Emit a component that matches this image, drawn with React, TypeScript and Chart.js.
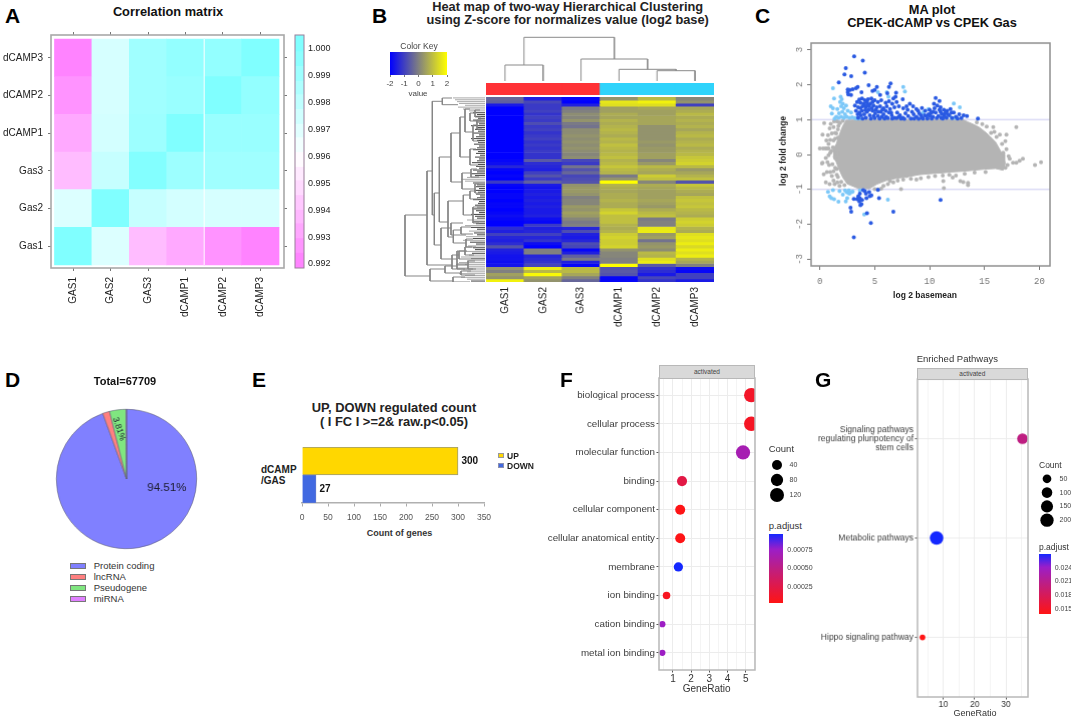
import React, { useEffect, useRef } from "react";
import { Chart, registerables } from "chart.js";

Chart.register(...registerables);
Chart.defaults.font.family = '"Liberation Sans", Arial, sans-serif';

// ---------- Panel A ----------
const corrCols = ["GAS1", "GAS2", "GAS3", "dCAMP1", "dCAMP2", "dCAMP3"];
const corrRowNames = ["Gas1", "Gas2", "Gas3", "dCAMP1", "dCAMP2", "dCAMP3"];
const corrGas1 = [1.0, 0.9971, 0.9939, 0.9933, 0.9926, 0.9921];
const corrGas2 = [0.9971, 1.0, 0.9978, 0.9974, 0.9973, 0.9973];
const corrGas3 = [0.9939, 0.9978, 0.9999, 0.9991, 0.9990, 0.9990];
const corrD1 = [0.9933, 0.9974, 0.9991, 1.0, 0.9992, 0.9992];
const corrD2 = [0.9926, 0.9973, 0.9990, 0.9992, 1.0, 0.9994];
const corrD3 = [0.9921, 0.9973, 0.9990, 0.9994, 0.9994, 1.0];
const corrMatrix = [corrGas1, corrGas2, corrGas3, corrD1, corrD2, corrD3];
const corrKeyEdges = [0.99185, 0.9924, 0.99295, 0.9935, 0.994, 0.99455, 0.9951, 0.9956, 0.99615, 0.9967, 0.9972, 0.99775, 0.9983, 0.9988, 0.99935, 0.9999, 1.00052];
const corrKeyTicks = [0.992, 0.993, 0.994, 0.995, 0.996, 0.997, 0.998, 0.999, 1.0];

// ---------- Panel B ----------
const heatCols = ["GAS1", "GAS2", "GAS3", "dCAMP1", "dCAMP2", "dCAMP3"];
const sampleGroup = [0, 0, 0, 1, 1, 1];
const heatRows = [
  [-0.4, -1.5, -1.9, 0.3, 0.9, 0.1], [-0.5, -0.9, -2.0, 1.6, 1.8, 0.3], [-1.6, -1.1, -1.5, 1.5, 1.5, -1.0],
  [-2.0, -1.1, -0.1, 0.5, 0.6, 0.6], [-2.0, -1.0, 0.0, 0.5, 0.5, 0.7], [-2.0, -1.2, 0.2, 0.7, 0.5, 0.9],
  [-2.0, -1.0, 0.1, 0.6, 0.6, 0.7], [-2.0, -1.1, 0.3, 0.8, 0.6, 0.8], [-2.0, -0.8, -0.1, 0.7, 0.6, 0.7],
  [-2.0, -1.1, -0.2, 0.8, 0.3, 0.8], [-2.0, -1.0, 0.2, 0.9, 0.3, 0.6], [-2.0, -1.2, 0.2, 0.8, 0.3, 0.8],
  [-2.0, -1.1, 0.3, 0.7, 0.3, 0.9], [-2.0, -1.0, 0.2, 0.9, 0.3, 0.7], [-2.0, -1.2, 0.3, 0.8, 0.4, 0.8],
  [-2.0, -1.1, 0.2, 1.0, 0.3, 0.9], [-2.0, -1.2, 0.3, 0.9, 0.4, 0.7], [-2.0, -1.1, 0.2, 0.8, 0.4, 0.8],
  [-2.0, -1.2, 0.1, 0.9, 0.5, 0.9], [-2.0, -1.2, 0.2, 1.0, 0.5, 1.1], [-1.9, -0.6, -0.9, 0.8, 0.1, 1.2],
  [-1.8, -1.3, -1.1, 0.9, 0.4, 1.3], [-1.4, -1.4, -0.2, 1.1, 0.9, 0.9], [-1.9, -1.5, -0.7, 0.9, 0.7, 0.4],
  [-2.0, -1.0, -0.4, 0.8, 0.6, 0.6], [-1.9, -0.7, -0.9, -0.1, 1.2, 0.8], [-2.0, -1.1, -0.8, 0.3, 1.0, 1.0],
  [-1.1, -0.5, -0.7, 2.0, 0.1, -0.7], [-1.9, -1.6, 0.3, 0.8, 0.7, 1.1], [-2.0, -1.7, 0.4, 0.7, 0.6, 0.9],
  [-2.0, -1.6, 0.4, 0.6, 0.5, 0.7], [-1.9, -1.5, 0.3, 0.7, 0.5, 0.6], [-1.9, -1.6, 0.0, 0.7, 0.5, 1.0],
  [-2.0, -1.5, 0.1, 0.8, 0.6, 1.1], [-1.9, -1.6, 0.1, 0.7, 0.5, 1.0], [-1.9, -1.5, 0.4, 0.7, 0.4, 1.1],
  [-2.0, -1.6, 0.3, 1.1, 0.7, 0.9], [-1.9, -1.6, 0.5, 1.3, 0.9, 0.8], [-1.8, -1.5, 0.4, 1.0, 1.0, 0.7],
  [-1.9, -1.8, 0.1, 1.0, -0.1, 1.2], [-2.0, -1.9, -0.1, 1.0, 0.0, 1.3], [-2.2, -1.1, 0.0, 0.8, 0.0, 1.2],
  [-1.3, -1.5, -1.4, 0.7, 1.6, 0.8], [-1.5, -1.4, -0.8, 0.8, 1.7, 0.7], [-1.0, -1.0, -1.5, 1.2, 0.4, 1.5],
  [-1.4, -1.4, -1.6, 1.3, 0.5, 1.6], [-1.5, -1.2, -1.4, 1.2, -0.2, 1.5], [-1.3, -1.8, -0.8, 1.2, 0.3, 1.7],
  [-0.7, -2.1, -0.9, 1.3, 0.4, 1.4], [-1.5, 0.0, -1.9, 0.3, 0.2, 1.7], [-1.6, 0.0, -1.5, 0.1, 0.9, 1.5],
  [-1.7, -1.4, -0.5, 0.1, 0.8, 1.7], [-1.7, -1.3, -0.1, 0.0, 1.5, 0.8], [-1.8, -1.2, -1.5, 0.0, 1.7, 0.6],
  [-1.7, -0.9, -1.9, 2.0, -0.6, 0.0], [0.3, 1.7, 0.9, -0.7, -1.2, -1.8], [0.0, 0.9, 0.9, -0.6, -1.3, -1.9],
  [0.5, 1.9, 0.6, -0.7, -1.6, -1.0], [0.3, 0.5, 0.0, -1.9, -0.9, -1.0], [1.8, 0.3, -0.4, -1.9, -1.2, -1.6],
];
// brackets: parent height, first row, first child height, second row, second child height
const rowBrackets = [
  [80, 118, 58, 179, 55], [58, 74, 52.7, 168, 33], [52.7, 4.3, 42.7, 118, 50.7], [42.7, 1, 33, 7.7, 27],
  [50.7, 96, 45.7, 148, 44], [45.7, 60, 34, 125, 37], [34, 36, 25, 85, 23], [25, 20, 20, 60, 15],
  [20, 12, 15, 35, 12], [15, 16, 10, 24, 8], [12, 28, 8, 44, 6], [15, 52, 9, 68, 7], [10, 13, 5, 20, 4],
  [8, 23, 4, 32, 3], [23, 76, 14, 92, 10], [14, 72, 8, 80, 6], [10, 87, 6, 96, 5], [37, 104, 21.7, 140, 31.7],
  [21.7, 98, 15, 118, 12], [15, 94, 9, 102, 7], [12, 110, 8, 126, 6], [31.7, 133, 24, 146, 19], [24, 130, 14, 137, 12],
  [19, 142, 12, 150, 9], [44, 131, 34, 162, 28], [34, 126, 22, 138, 19], [28, 154, 20, 168, 17],
  [20, 150, 13, 158, 11], [17, 164, 10, 172, 9], [55, 172, 40, 184, 32], [40, 169, 28, 176, 24], [32, 180, 20, 185, 15],
  [28, 167, 18, 172, 12], [24, 174, 14, 178, 10], [33, 158, 26, 172, 20], [26, 154, 18, 162, 14],
];
const leafStarts = [
  32, 30, 28, 26, 20, 27, 22, 16, 12, 8, 10, 7, 12, 9, 6, 14, 8, 10, 7, 12, 6, 9, 14, 8, 7, 11, 6, 8, 12, 7,
  9, 5, 10, 6, 8, 13, 7, 9, 6, 12, 8, 14, 10, 18, 24, 20, 12, 8, 9, 6, 11, 7, 9, 5, 8, 12, 6, 7, 10, 8,
  13, 9, 6, 14, 10, 8, 18, 12, 9, 20, 14, 8, 16, 11, 8, 19, 12, 22, 15, 9, 17, 12, 10, 21, 13, 16, 24, 14, 18, 26,
  20, 16, 28, 22, 18, 26, 20, 24, 18, 14,
];
const colMerges = [
  [0.5, 1, 0.5, 17, 1.5, 17, 1.5, 1],
  [4.5, 1, 4.5, 11.3, 5.5, 11.3, 5.5, 1],
  [3.5, 1, 3.5, 12.7, 5, 12.7, 5, 11.3],
  [2.5, 1, 2.5, 23, 4.25, 23, 4.25, 12.7],
  [1, 17, 1, 44.7, 3.375, 44.7, 3.375, 23],
];

// ---------- Panel C ----------
const maUpperX = [1.2, 1.5, 1.8, 2.1, 2.4, 5, 9, 13.0, 13.5, 14, 14.5, 15, 15.5, 16, 16.5, 16.9];
const maUpperY = [0.12, 0.3, 0.58, 0.82, 0.98, 1, 1, 1, 0.93, 0.86, 0.78, 0.66, 0.52, 0.36, 0.08, -0.25];
const maLowerX = [1.2, 1.5, 1.8, 2.1, 2.5, 3.5, 4.5, 5.2, 6, 7, 8, 9, 10, 11, 12, 13, 14, 15, 16, 16.7, 16.9];
const maLowerY = [-0.05, -0.22, -0.46, -0.66, -0.84, -0.97, -0.98, -0.85, -0.75, -0.68, -0.64, -0.58, -0.55, -0.53, -0.5, -0.48, -0.45, -0.42, -0.4, -0.45, -0.25];
const maGrey = [
  [0, 0.17], [0.25, 0.57], [0.4, 0.9], [0.2, -0.26], [0.25, -0.24], [0.36, -0.57], [0.55, -0.8], [0.9, -0.85], [0.3, 0.17], [0.5, 0.17],
  [0.65, 0.17], [0.8, 0.17], [0.6, 0.4], [0.75, 0.55], [0.9, 0.75], [0.8, 0.3], [0.95, 0.42], [1.1, 0.6], [1.25, 0.78], [1.0, 0.88],
  [0.55, -0.1], [0.7, -0.22], [0.85, -0.3], [0.95, -0.5], [1.1, -0.62], [1.25, -0.75], [1.35, -0.85], [0.65, -0.5], [1.6, -0.8], [1.8, -0.9],
  [1.05, 0.1], [1.2, 0.2], [0.95, 0.05], [0.8, -0.02], [1.3, 0.95], [1.55, 0.95], [15.8, 0.78], [17.9, 0.78], [17.0, 0.57], [16.9, 0.38],
  [16.4, 0.57], [15.9, 0.65], [14.8, 0.87], [14.3, 0.92], [15.2, 0.8], [15.6, 0.62], [16.1, 0.5], [16.6, 0.3], [17.0, 0.15], [17.2, -0.05],
  [18.5, -0.12], [17.9, -0.24], [19.6, -0.3], [20.15, -0.22], [17.3, -0.12], [17.6, -0.24], [17.1, -0.3], [16.9, -0.38], [18.2, -0.18], [16.7, 0.05],
  [12.8, -0.76], [13.07, -0.79], [13.5, -0.81], [13.5, -0.88], [11.3, -0.96], [7.4, -0.99], [6.4, -0.76], [7.9, -0.62], [8.8, -0.72], [5.3, -1.0],
  [5.8, -0.9], [6.2, -0.85], [6.7, -0.8], [7.1, -0.75], [7.6, -0.72], [8.3, -0.7], [9.2, -0.68], [9.9, -0.65], [10.5, -0.62], [11.2, -0.6],
  [11.8, -0.58], [12.4, -0.6], [13.2, -0.55], [14.1, -0.52], [15.1, -0.5], [5.0, -0.99], [5.6, -0.98], [11.25, -0.76], [12.1, -0.66],
  [1.4, 0.45], [1.5, 0.6], [1.65, 0.48], [1.55, 0.02], [1.4, -0.1], [1.55, -0.42], [1.4, -0.38], [1.55, -0.58], [1.65, 0.72], [1.7, 0.82],
  [1.85, 0.9], [1.4, 0.62], [1.25, 0.4], [1.15, -0.28], [1.25, -0.48], [1.65, -0.65], [1.95, -0.78], [2.25, -0.88], [2.1, 0.96], [1.75, 0.92],
];
const maDark = [
  [3.13, 2.81], [3.92, 2.69], [2.37, 2.47], [4.1, 2.34], [2.25, 2.29], [2.86, 2.24], [1.73, 2.06], [6.45, 2.03], [4.45, 1.98], [6.3, 1.93],
  [5.2, 1.93], [3.45, 1.93], [3.3, 1.9], [3.0, 1.87], [2.55, 1.86], [2.75, 1.85], [5.0, 1.85], [4.8, 1.82], [2.55, 1.78], [3.8, 1.78],
  [6.15, 1.75], [6.95, 1.77], [2.6, 1.72], [2.85, 1.7], [5.5, 1.7], [6.9, 1.65], [6.7, 1.6], [7.55, 1.58], [10.55, 1.62], [10.9, 1.53],
  [3.6, 1.57], [3.85, 1.6], [4.1, 1.55], [4.4, 1.58], [4.7, 1.6], [5.0, 1.55], [3.4, 1.5], [3.7, 1.48], [4.0, 1.45], [4.3, 1.5],
  [4.6, 1.45], [5.3, 1.5], [5.6, 1.55], [6.0, 1.48], [6.3, 1.52], [6.6, 1.45], [7.0, 1.5], [3.2, 1.4], [3.5, 1.35], [3.9, 1.38],
  [4.2, 1.35], [4.5, 1.38], [4.9, 1.4], [5.2, 1.35], [5.5, 1.38], [5.8, 1.32], [6.1, 1.38], [6.4, 1.3], [6.8, 1.35], [7.2, 1.38],
  [7.6, 1.32], [7.9, 1.38], [8.2, 1.45], [8.5, 1.38], [8.8, 1.3], [9.3, 1.33], [9.6, 1.25], [10.0, 1.28], [10.4, 1.45], [10.7, 1.4],
  [11.0, 1.35], [11.3, 1.28], [11.6, 1.25], [11.9, 1.3], [12.2, 1.2], [12.7, 1.15], [13.1, 1.12], [13.4, 1.1], [14.4, 1.03], [3.3, 1.25],
  [3.6, 1.2], [3.85, 1.25], [4.05, 1.15], [4.3, 1.22], [4.55, 1.12], [4.8, 1.25], [5.05, 1.18], [5.3, 1.1], [5.55, 1.22], [5.8, 1.15],
  [6.05, 1.08], [6.3, 1.2], [6.55, 1.12], [6.8, 1.05], [7.05, 1.2], [7.3, 1.12], [7.55, 1.05], [7.8, 1.18], [8.05, 1.1], [8.3, 1.03],
  [8.55, 1.15], [8.8, 1.08], [9.05, 1.18], [9.3, 1.05], [9.55, 1.12], [9.8, 1.03], [10.05, 1.15], [10.3, 1.08], [10.55, 1.2], [10.8, 1.1],
  [11.05, 1.05], [11.3, 1.15], [11.55, 1.05], [11.8, 1.12], [12.05, 1.04], [12.4, 1.08], [3.5, 1.05], [3.9, 1.03], [4.2, 1.05], [4.65, 1.03],
  [5.0, 1.04], [5.45, 1.03], [5.9, 1.03], [6.2, 1.04], [6.6, 1.03], [7.0, 1.04], [7.4, 1.03], [7.7, 1.02], [8.6, 1.03], [9.0, 1.02],
  [9.4, 1.03], [9.9, 1.15], [10.2, 1.03], [10.65, 1.04], [11.2, 1.03], [11.65, 1.15], [12.0, 1.2], [12.55, 1.03], [12.9, 1.04], [10.3, 1.22],
  [11.0, 1.22], [9.7, 1.1], [8.95, 1.25], [8.4, 1.22], [4.15, 1.27], [4.75, 1.32], [5.1, 1.28], [5.7, 1.28], [3.7, 1.33], [11.35, 1.1],
  [4.05, 1.42], [4.35, 1.42], [4.8, 1.5], [3.75, 1.12], [4.45, 1.28], [5.35, 1.22], [6.0, 1.25], [6.5, 1.2], [8.0, 1.28], [9.2, 1.12],
  [10.0, 1.1], [10.15, 1.2], [10.9, 1.28], [10.45, 1.32], [11.45, 1.2], [11.1, 1.16], [3.45, 1.15], [4.9, 1.1], [5.65, 1.08], [7.2, 1.08],
  [5.3, -1.01], [5.4, -1.25], [4.55, -1.19], [4.1, -1.05], [3.65, -1.12], [3.1, -1.27], [3.65, -1.25], [4.25, -1.25], [4.7, -1.17], [3.6, -1.34],
  [3.7, -1.45], [3.8, -1.42], [4.5, -1.08], [3.5, -1.2], [3.95, -1.02], [4.2, -1.12], [3.85, -1.3], [3.4, -1.28], [11.0, -1.3], [6.7, -1.64],
  [4.65, -1.96], [3.1, -2.37], [4.3, -1.68], [2.8, -1.52], [2.86, -1.64],
];
const maLight = [
  [1.2, 1.9], [7.6, 1.93], [7.75, 1.8], [1.3, 1.6], [1.0, 1.38], [1.2, 1.32], [1.1, 1.17], [1.9, 1.65], [2.0, 1.58], [1.85, 1.5],
  [2.1, 1.45], [1.95, 1.38], [2.2, 1.32], [1.6, 1.3], [2.4, 1.4], [2.05, 1.22], [1.75, 1.18], [2.3, 1.15], [2.55, 1.25], [1.5, 1.08],
  [1.7, 1.05], [1.95, 1.08], [2.2, 1.05], [2.45, 1.08], [2.7, 1.05], [2.95, 1.06], [3.2, 1.04], [1.35, 1.03], [2.85, 1.2], [6.25, 1.65],
  [6.1, 1.78], [12.2, 1.46], [12.75, 1.35], [9.9, 1.3], [3.4, 1.03], [3.65, 1.03], [12.0, 1.05], [12.3, 1.05], [9.4, 1.2], [5.3, 1.78],
  [6.2, -1.29], [2.37, -1.34], [4.05, -1.72], [0.75, -1.07], [0.9, -1.2], [1.3, -1.28], [1.8, -1.05], [2.1, -1.15], [2.6, -1.1], [2.45, -1.08],
  [2.7, -1.12], [2.9, -1.08], [2.5, -1.25], [1.2, -1.02], [3.0, -1.06], [3.65, -1.03], [1.7, -1.35], [1.05, -1.25], [2.3, -1.03], [2.65, -1.03],
];
const maTicksX = [0, 5, 10, 15, 20];
const maTicksY = [-3, -2, -1, 0, 1, 2, 3];

// ---------- Panel D ----------
const pieNames = ["Protein coding", "lncRNA", "Pseudogene", "miRNA"];
const pieValues = [94.51, 1.6, 3.81, 0.08];
const pieColors = ["#8080ff", "#ff8080", "#80e680", "#e080ff"];

// ---------- Panel E ----------
const regCategory = ["dCAMP/GAS"];
const regUp = [300];
const regDown = [27];
const regTicks = [0, 50, 100, 150, 200, 250, 300, 350];

// ---------- Panel F ----------
const goTerms = ["biological process", "cellular process", "molecular function", "binding", "cellular component", "cellular anatomical entity", "membrane", "ion binding", "cation binding", "metal ion binding"];
const goRatio = [5.3, 5.3, 4.85, 1.5, 1.4, 1.4, 1.3, 0.65, 0.42, 0.42];
const goCount = [130, 130, 125, 42, 40, 40, 30, 12, 4, 4];
const goPadj = [0.00012, 0.0001, 0.00068, 0.00024, 0.00004, 0.00004, 0.00097, 0.00008, 0.00075, 0.00075];
const goCountKey = [40, 80, 120];
const goPadjTicks = [0.00025, 0.0005, 0.00075];

// ---------- Panel G ----------
const pathTerms = [["Signaling pathways", "regulating pluripotency of", "stem cells"], ["Metabolic pathways"], ["Hippo signaling pathway"]];
const pathRatio = [35.3, 7.8, 3.3];
const pathCount = [100, 208, 6];
const pathPadj = [0.0204, 0.027, 0.0139];
const pathCountKey = [50, 100, 150, 200];
const pathPadjTicks = [0.015, 0.018, 0.021, 0.024];

// ---------- helpers ----------
const fit = (s: any) => {
  s.paddingLeft = s.paddingRight = s.paddingTop = s.paddingBottom = 0;
  if (s.isHorizontal()) s.height = 0; else s.width = 0;
  s._computeLabelArea = () => undefined;
};

function axis(o: any) {
  const major = o.major;
  return {
    type: "linear", axis: o.axisName, position: o.position, min: o.min, max: o.max, reverse: !!o.reverse, stacked: !!o.stacked,
    offset: false,
    afterBuildTicks: (a: any) => { a.ticks = o.at.map((value: number) => ({ value })); },
    afterFit: fit,
    border: { display: !!o.borderColor, color: o.borderColor, width: o.borderWidth || 1 },
    grid: {
      display: true,
      offset: false,
      drawOnChartArea: !!o.gridColor,
      drawTicks: o.tick !== 0,
      tickLength: o.tick === undefined ? 3 : o.tick,
      lineWidth: o.gridWidth || 1,
      color: (c: any) => {
        if (!o.gridColor) return "transparent";
        return major && !major.includes(c.tick?.value) ? "#f4f4f4" : o.gridColor;
      },
      tickColor: (c: any) => (major && !major.includes(c.tick?.value) ? "transparent" : o.tickColor || "#777"),
    },
    ticks: {
      display: o.labels !== false,
      autoSkip: false,
      padding: o.pad ?? 3,
      color: o.color || "#333",
      font: o.font || { size: 9 },
      minRotation: o.rot || 0,
      maxRotation: o.rot || 0,
      crossAlign: o.crossAlign || "near",
      callback: o.labels === false ? () => "" : o.labels || ((v: number) => String(v)),
    },
  };
}

const frame = {
  id: "frame",
  afterDraw(chart: any, _a: any, opts: any) {
    if (!opts.color) return;
    const { left, top, right, bottom } = chart.chartArea;
    const g = chart.ctx;
    g.save();
    g.strokeStyle = opts.color;
    g.lineWidth = opts.width || 1;
    g.strokeRect(left, top, right - left, bottom - top);
    g.restore();
  },
};

function base(extra: any = {}) {
  return {
    responsive: false, animation: false, maintainAspectRatio: false,
    events: [],
    plugins: { legend: { display: false }, tooltip: { enabled: false }, title: { display: false }, ...extra.plugins },
    scales: extra.scales,
    indexAxis: extra.indexAxis,
    elements: extra.elements,
  };
}

type Box = { plot: number[]; m: number[]; make: () => any };

function Panel({ plot, m, make }: Box) {
  const ref = useRef<HTMLCanvasElement>(null);
  const [l, t, r, b] = plot;
  const [ml, mt, mr, mb] = m;
  const w = r - l + ml + mr;
  const h = b - t + mt + mb;
  useEffect(() => {
    const cfg = make();
    cfg.options.layout = { autoPadding: false, padding: { left: ml, top: mt, right: mr, bottom: mb } };
    cfg.plugins = [...(cfg.plugins || []), frame];
    const c = new Chart(ref.current as HTMLCanvasElement, cfg);
    return () => c.destroy();
  }, []);
  return <canvas ref={ref} width={w} height={h} style={{ position: "absolute", left: l - ml, top: t - mt, width: w, height: h, display: "block" }} />;
}

function T({ x, y, text, size = 10, bold = false, align = "left", color = "#111", rot = 0, spacing = 0, family }: any) {
  const tx = align === "left" ? "0" : align === "center" ? "-50%" : "-100%";
  return (
    <div style={{
      position: "absolute", left: x, top: y, whiteSpace: "nowrap", fontSize: size, lineHeight: 1, letterSpacing: spacing,
      fontWeight: bold ? 700 : 400, color, fontFamily: family || '"Liberation Sans", Arial, sans-serif',
      transform: `translate(${tx},-50%) rotate(${rot}deg)`,
    }}>{text}</div>
  );
}

const mix = (a: number[], b: number[], t: number) => {
  const k = Math.max(0, Math.min(1, t));
  return `rgb(${a.map((v, i) => Math.round(v + (b[i] - v) * k)).join(",")})`;
};
const corrColor = (v: number) =>
  v <= 0.996 ? mix([255, 255, 255], [255, 128, 255], (0.996 - v) / 0.004) : mix([255, 255, 255], [128, 255, 255], (v - 0.996) / 0.004);
const zColor = (z: number) =>
  z <= 0 ? mix([128, 128, 128], [0, 0, 255], -z / 2) : mix([128, 128, 128], [255, 255, 0], z / 2);

const rampStops: [number, number[]][] = [[0, [255, 20, 20]], [0.5, [190, 30, 130]], [0.78, [155, 30, 200]], [1, [20, 40, 255]]];
const redBlue = (p: number, lo: number, hi: number) => {
  const t = Math.max(0, Math.min(1, (p - lo) / (hi - lo)));
  for (let i = 1; i < rampStops.length; i++) {
    const [o0, c0] = rampStops[i - 1];
    const [o1, c1] = rampStops[i];
    if (t <= o1) return mix(c0, c1, (t - o0) / (o1 - o0));
  }
  return "rgb(20,40,255)";
};

// ---------- chart builders ----------
const corrChart = () => {
  const cols = [0.5, 1.5, 2.5, 3.5, 4.5, 5.5];
  const xr = { min: -0.093, max: 6.133 };
  const yr = { min: -0.08, max: 6.106 };
  const tickFont = { size: 10 };
  return {
    type: "bar",
    data: {
      datasets: [
        { type: "line", data: [{ x: 4, y: 0 }, { x: 4, y: 6 }], borderColor: "#ffffff", borderWidth: 1, pointRadius: 0, stack: "rule" },
        ...corrMatrix.map((row, ri) => ({
          label: corrRowNames[ri],
          data: row.map((_, ci) => ({ x: cols[ci], y: 1 })),
          backgroundColor: row.map(corrColor),
          borderWidth: 0, barPercentage: 1, categoryPercentage: 1, stack: "s",
        })),
      ],
    },
    options: base({
      plugins: { frame: { color: "#a8a8a8", width: 1.6 } },
      scales: {
        x: axis({ ...xr, position: "bottom", at: cols, stacked: true, rot: 90, pad: 6, color: "#222", font: tickFont, labels: (v: number) => corrCols[Math.floor(v)] }),
        y: axis({ ...yr, position: "left", at: cols, stacked: true, pad: 5, color: "#222", font: tickFont, labels: (v: number) => corrRowNames[Math.floor(v)] }),
        xT: axis({ ...xr, axisName: "x", position: "top", at: cols, labels: false }),
        yR: axis({ ...yr, axisName: "y", position: "right", at: cols, labels: false }),
      },
    }),
  };
};

const corrKeyChart = () => ({
  type: "bar",
  data: {
    labels: [""],
    datasets: corrKeyEdges.slice(1).map((hi, i) => ({
      data: [[corrKeyEdges[i], hi]],
      backgroundColor: corrColor((corrKeyEdges[i] + hi) / 2),
      borderWidth: 0, barPercentage: 1, categoryPercentage: 1,
    })),
  },
  options: base({
    plugins: { frame: { color: "#9a7f9a", width: 1 } },
    scales: {
      x: { display: false, stacked: true },
      y: axis({ min: 0.99185, max: 1.00052, position: "right", at: corrKeyTicks, tick: 0, pad: 4, color: "#222", font: { size: 9 }, labels: (v: number) => v.toFixed(3) }),
    },
  }),
});

const gradientFill = (horizontal: boolean, stops: [number, string][]) => (c: any) => {
  const a = c.chart.chartArea;
  if (!a) return stops[0][1];
  const g = horizontal
    ? c.chart.ctx.createLinearGradient(a.left, 0, a.right, 0)
    : c.chart.ctx.createLinearGradient(0, a.bottom, 0, a.top);
  stops.forEach(([o, s]) => g.addColorStop(o, s));
  return g;
};

const colorKeyChart = () => ({
  type: "bar",
  data: {
    labels: [""],
    datasets: [{
      data: [[-2, 2]],
      backgroundColor: gradientFill(true, [[0, "rgb(0,0,255)"], [0.5, "rgb(128,128,128)"], [1, "rgb(255,255,0)"]]),
      borderWidth: 0, barPercentage: 1, categoryPercentage: 1,
    }],
  },
  options: base({
    indexAxis: "y",
    scales: {
      y: { display: false },
      x: axis({ min: -2, max: 2, position: "bottom", at: [-2, -1, 0, 1, 2], tick: 2, pad: 2, color: "#444", font: { size: 8 } }),
    },
  }),
});

const lines = (sets: { x: number; y: number }[][], color: string, width: number) =>
  sets.map((data) => ({ type: "scatter", data, showLine: true, borderColor: color, borderWidth: width, pointRadius: 0, fill: false, tension: 0 }));

const topDendro = () => ({
  type: "scatter",
  data: {
    datasets: lines(colMerges.map((m) => [0, 2, 4, 6].map((i) => ({ x: m[i], y: m[i + 1] }))), "#8a8a8a", 1),
  },
  options: base({ scales: { x: { type: "linear", display: false, min: 0, max: 6 }, y: { type: "linear", display: false, min: 0, max: 47 } } }),
});

const leftDendro = () => ({
  type: "scatter",
  data: {
    datasets: [
      ...lines(rowBrackets.map(([hp, r1, h1, r2, h2]) => [{ x: h1, y: r1 }, { x: hp, y: r1 }, { x: hp, y: r2 }, { x: h2, y: r2 }]), "#858585", 1),
      ...leafStarts.map((h, i) => lines([[{ x: h, y: 0.9 + i * 1.85 }, { x: 0, y: 0.9 + i * 1.85 }]], h > 15 ? "#b0b0b0" : "#505050", 1.1)[0]),
    ],
  },
  options: base({ scales: { x: { type: "linear", display: false, min: 0, max: 82, reverse: true }, y: { type: "linear", display: false, min: 0, max: 185, reverse: true } } }),
});

const groupStrip = () => ({
  type: "bar",
  data: {
    labels: heatCols,
    datasets: [{ data: sampleGroup.map(() => 1), backgroundColor: sampleGroup.map((g) => (g ? "#2fd3fb" : "#ff3236")), borderWidth: 0, barPercentage: 1, categoryPercentage: 1 }],
  },
  options: base({ scales: { x: { display: false }, y: { display: false, min: 0, max: 1 } } }),
});

const heatChart = () => ({
  type: "bar",
  data: {
    labels: heatCols,
    datasets: heatRows.map((row) => ({
      data: row.map(() => 1),
      backgroundColor: row.map(zColor),
      borderWidth: 0, barPercentage: 1, categoryPercentage: 1, stack: "s",
    })),
  },
  options: base({
    scales: {
      x: {
        type: "category", stacked: true, afterFit: fit, border: { display: false },
        grid: { display: false, drawTicks: false },
        ticks: { autoSkip: false, minRotation: 90, maxRotation: 90, padding: 5, color: "#222", font: { size: 10 } },
      },
      y: { display: false, stacked: true, reverse: true, min: 0, max: heatRows.length },
    },
  }),
});

const toXY = (a: number[][]) => a.map(([x, y]) => ({ x, y }));
const zipXY = (xs: number[], ys: number[]) => xs.map((x, i) => ({ x, y: ys[i] }));

const maChart = () => {
  const xr = { min: -0.79, max: 20.97 };
  const yr = { min: -3.19, max: 3.19 };
  const mono = { family: '"Liberation Mono", monospace', size: 9 };
  const dots = (data: number[][], color: string) => ({ type: "scatter", data: toXY(data), backgroundColor: color, borderWidth: 0, pointRadius: 2, showLine: false });
  return {
    type: "scatter",
    data: {
      datasets: [
        dots(maDark, "#2a5ae2"),
        dots(maLight, "#7cc8f8"),
        dots(maGrey, "#b4b4b4"),
        { type: "scatter", data: zipXY(maUpperX, maUpperY), showLine: true, fill: { value: 0 }, backgroundColor: "#b4b4b4", borderColor: "#b4b4b4", borderWidth: 1, pointRadius: 0 },
        { type: "scatter", data: zipXY(maLowerX, maLowerY), showLine: true, fill: { value: 0.05 }, backgroundColor: "#b4b4b4", borderColor: "#b4b4b4", borderWidth: 1, pointRadius: 0 },
        { type: "scatter", data: [{ x: xr.min, y: 1 }, { x: xr.max, y: 1 }], showLine: true, borderColor: "#c9c9f0", borderWidth: 1, pointRadius: 0 },
        { type: "scatter", data: [{ x: xr.min, y: -1 }, { x: xr.max, y: -1 }], showLine: true, borderColor: "#c9c9f0", borderWidth: 1, pointRadius: 0 },
      ],
    },
    options: base({
      plugins: { frame: { color: "#8f8f8f", width: 1.5 } },
      scales: {
        x: axis({ ...xr, position: "bottom", at: maTicksX, tick: 4, pad: 6, color: "#777", tickColor: "#777", font: mono }),
        y: axis({ ...yr, position: "left", at: maTicksY, tick: 4, pad: 2, color: "#777", tickColor: "#777", font: mono, rot: 90, crossAlign: "center" }),
      },
    }),
  };
};

const pieLabels = {
  id: "pieLabels",
  afterDatasetsDraw(chart: any) {
    const arc = chart.getDatasetMeta(0).data[0];
    const g = chart.ctx;
    const items = [
      { text: pieValues[0].toFixed(2) + "%", dx: 40, dy: 9, rot: 0, size: 11.5 },
      { text: pieValues[2].toFixed(2) + "%", dx: -7.5, dy: -50, rot: 72, size: 8.5 },
    ];
    g.save();
    g.fillStyle = "#1c1c2e";
    g.textAlign = "center";
    g.textBaseline = "middle";
    items.forEach((it) => {
      g.save();
      g.translate(arc.x + it.dx, arc.y + it.dy);
      g.rotate((it.rot * Math.PI) / 180);
      g.font = `${it.size}px "Liberation Sans", Arial, sans-serif`;
      g.fillText(it.text, 0, 0);
      g.restore();
    });
    g.restore();
  },
};

const pieChart = () => ({
  type: "pie",
  data: { labels: pieNames, datasets: [{ data: pieValues, backgroundColor: pieColors, borderColor: "#62627a", borderWidth: 0.6, radius: "100%" }] },
  options: base({}),
  plugins: [pieLabels],
});

const barLabels = {
  id: "barLabels",
  afterDatasetsDraw(chart: any) {
    const g = chart.ctx;
    g.save();
    g.fillStyle = "#111";
    g.font = 'bold 10px "Liberation Sans", Arial, sans-serif';
    g.textBaseline = "middle";
    chart.data.datasets.forEach((d: any, i: number) => {
      const el = chart.getDatasetMeta(i).data[0];
      g.fillText(String(d.data[0]), el.x + 3.5, el.y);
    });
    g.restore();
  },
};

const regChart = () => ({
  type: "bar",
  data: {
    labels: regCategory,
    datasets: [
      { label: "UP", data: regUp, backgroundColor: "#ffd700", borderColor: "#9a9a7a", borderWidth: 1, barPercentage: 1, categoryPercentage: 1 },
      { label: "DOWN", data: regDown, backgroundColor: "#4169e1", borderColor: "#8a8fb0", borderWidth: 0.6, barPercentage: 1, categoryPercentage: 1 },
    ],
  },
  options: base({
    indexAxis: "y",
    scales: {
      y: { display: false },
      x: axis({ min: 0, max: 350, position: "bottom", at: regTicks, tick: 3.5, pad: 6, color: "#555", tickColor: "#aaa", borderColor: "#b0b0b0", borderWidth: 1.5, font: { size: 8.5 } }),
    },
  }),
  plugins: [barLabels],
});

const dotChart = (o: any) => ({
  type: "scatter",
  data: {
    datasets: [{
      data: o.xs.map((x: number, i: number) => ({ x, y: i + 1 })),
      backgroundColor: o.colors,
      pointRadius: o.radii,
      borderWidth: 0,
      showLine: false,
    }],
  },
  options: base({
    plugins: { frame: { color: "#b8b8b8", width: 1.5 } },
    scales: {
      x: axis({ min: o.xMin, max: o.xMax, position: "bottom", at: o.xAt, major: o.xMajor, gridColor: "#ececec", tick: 2.5, pad: o.xPad, color: "#333", tickColor: "#555", font: { size: o.xSize }, labels: (v: number) => (o.xMajor.includes(v) ? String(v) : "") }),
      y: axis({ min: 0.4, max: o.xs.length + 0.6, reverse: true, position: "left", at: o.xs.map((_: number, i: number) => i + 1), gridColor: "#ececec", tick: 2.5, pad: 1.5, color: "#3c3c3c", tickColor: "#555", font: o.yFont, labels: (v: number) => o.names[v - 1] }),
    },
  }),
});

const goRadius = (c: number) => 2.27 + 0.432 * Math.sqrt(c);
const pathRadius = (c: number) => 2.05 + 0.325 * Math.sqrt(c);

const goChart = () => dotChart({
  xs: goRatio, names: goTerms, xMin: 0.236, xMax: 5.507, xPad: 1, xSize: 10,
  xAt: [0.5, 1, 1.5, 2, 2.5, 3, 3.5, 4, 4.5, 5, 5.5], xMajor: [1, 2, 3, 4, 5],
  colors: goPadj.map((p) => redBlue(p, 0.00003, 0.00097)),
  radii: goCount.map(goRadius), yFont: { size: 9.8 },
});
const pathChart = () => dotChart({
  xs: pathRatio, names: pathTerms, xMin: 1.69, xMax: 37.06, xPad: 0, xSize: 8.5,
  xAt: [5, 10, 15, 20, 25, 30, 35], xMajor: [10, 20, 30],
  colors: pathPadj.map((p) => redBlue(p, 0.01392, 0.02696)),
  radii: pathCount.map(pathRadius), yFont: { size: 8.5, lineHeight: 1.06 },
});

const sizeKey = (counts: number[], radius: (c: number) => number) => () => ({
  type: "scatter",
  data: {
    datasets: [{ data: counts.map((_, i) => ({ x: 0.5, y: i + 1 })), backgroundColor: "#000", pointRadius: counts.map(radius), borderWidth: 0, showLine: false }],
  },
  options: base({
    scales: {
      x: { type: "linear", display: false, min: 0, max: 1 },
      y: axis({ min: 0, max: counts.length + 1, reverse: true, position: "right", at: counts.map((_, i) => i + 1), tick: 0, pad: 4.5, color: "#444", font: { size: 7 }, labels: (v: number) => String(counts[v - 1]) }),
    },
  }),
});

const padjKey = (min: number, max: number, at: number[], digits: number, pad: number) => () => ({
  type: "bar",
  data: {
    labels: [""],
    datasets: [{
      data: [[min, max]],
      backgroundColor: gradientFill(false, rampStops.map(([o, c]) => [o, `rgb(${c.join(",")})`] as [number, string])),
      borderWidth: 0, barPercentage: 1, categoryPercentage: 1,
    }],
  },
  options: base({
    scales: {
      x: { display: false },
      y: axis({ min, max, position: "right", at, tick: 0, pad, color: "#444", font: { size: 7 }, labels: (v: number) => v.toFixed(digits) }),
    },
  }),
});

const Strip = ({ l, t, r, b }: any) => (
  <div style={{
    position: "absolute", left: l, top: t, width: r - l, height: b - t, boxSizing: "border-box", background: "#d9d9d9",
    border: "1px solid #b8b8b8", color: "#444", fontSize: 6.5, lineHeight: `${b - t - 2}px`, textAlign: "center",
    fontFamily: '"Liberation Sans", Arial, sans-serif',
  }}>activated</div>
);

const pieKeyY = [565.7, 577, 588.3, 599.3];

export default function App() {
  return (
    <div style={{ position: "absolute", left: 0, top: 0, width: 1072, height: 718, background: "#fff", overflow: "hidden" }}>
      <Panel plot={[50.5, 35, 284, 268]} m={[50, 8, 8, 50]} make={corrChart} />
      <Panel plot={[295, 35, 304, 268]} m={[2, 4, 40, 4]} make={corrKeyChart} />
      <Panel plot={[390, 51.7, 447, 75.3]} m={[8, 2, 8, 20]} make={colorKeyChart} />
      <Panel plot={[486.3, 35, 714.3, 82]} m={[1, 1, 1, 1]} make={topDendro} />
      <Panel plot={[403, 97, 485, 282]} m={[2, 2, 2, 2]} make={leftDendro} />
      <Panel plot={[486.3, 82.7, 714.3, 94.7]} m={[0, 0, 0, 0]} make={groupStrip} />
      <Panel plot={[486.3, 97, 714.3, 282]} m={[2, 2, 2, 50]} make={heatChart} />
      <Panel plot={[811.3, 43.3, 1050, 266]} m={[30, 3, 3, 25]} make={maChart} />
      <Panel plot={[56.4, 408.7, 197, 549.3]} m={[2, 2, 2, 2]} make={pieChart} />
      <Panel plot={[301.7, 447, 484.3, 503]} m={[2, 2, 22, 22]} make={regChart} />
      <Panel plot={[658.7, 378, 755.3, 670]} m={[120, 2, 4, 20]} make={goChart} />
      <Panel plot={[769, 450, 785, 510]} m={[2, 2, 24, 2]} make={sizeKey(goCountKey, goRadius)} />
      <Panel plot={[768.7, 534, 782.7, 603.3]} m={[2, 2, 40, 2]} make={padjKey(0.00003, 0.00097, goPadjTicks, 5, 4.3)} />
      <Panel plot={[917, 379.3, 1027.7, 696.7]} m={[100, 2, 8, 18]} make={pathChart} />
      <Panel plot={[1039, 464.9, 1055, 533.9]} m={[2, 2, 17, 2]} make={sizeKey(pathCountKey, pathRadius)} />
      <Panel plot={[1039, 554, 1051.3, 614.3]} m={[2, 2, 20, 2]} make={padjKey(0.01392, 0.02696, pathPadjTicks, 3, 3.7)} />

      <T x={5} y={15} text="A" size={21} bold color="#000" />
      <T x={372} y={15} text="B" size={21} bold color="#000" />
      <T x={755} y={15} text="C" size={21} bold color="#000" />
      <T x={5} y={379} text="D" size={21} bold color="#000" />
      <T x={252} y={379} text="E" size={21} bold color="#000" />
      <T x={560} y={379} text="F" size={21} bold color="#000" />
      <T x={815} y={379} text="G" size={21} bold color="#000" />

      <T x={168} y={12} text="Correlation matrix" size={12.8} bold align="center" />
      <T x={567.7} y={7} text="Heat map of two-way Hierarchical Clustering" size={12.8} bold align="center" color="#222" />
      <T x={567.7} y={20} text="using Z-score for normalizes value (log2 base)" size={12.8} bold align="center" color="#222" />
      <T x={419} y={46} text="Color Key" size={8.5} align="center" color="#444" />
      <T x={418} y={93.7} text="value" size={8} align="center" color="#444" />
      <T x={932} y={10} text="MA plot" size={12.8} bold align="center" />
      <T x={932} y={23.3} text="CPEK-dCAMP vs CPEK Gas" size={12.8} bold align="center" />
      <T x={925} y={295} text="log 2 basemean" size={8.5} bold align="center" color="#222" />
      <T x={782.7} y={150.7} text="log 2 fold change" size={8.5} bold align="center" color="#222" rot={-90} />

      <T x={125} y={380.7} text="Total=67709" size={11} bold align="center" />
      {pieNames.map((n, i) => (
        <React.Fragment key={n}>
          <div style={{ position: "absolute", left: 70, top: pieKeyY[i] - 3, width: 15.5, height: 6, boxSizing: "border-box", background: pieColors[i], border: "1px solid #777" }} />
          <T x={93.7} y={pieKeyY[i]} text={n} size={9.5} color="#333" />
        </React.Fragment>
      ))}

      <T x={394} y={408} text="UP, DOWN regulated count" size={12.9} bold align="center" color="#222" />
      <T x={394} y={421.7} text="( I FC I >=2& raw.p<0.05)" size={12.9} bold align="center" color="#222" />
      <T x={261} y={470} text="dCAMP" size={10} bold color="#222" />
      <T x={261} y={480.7} text="/GAS" size={10} bold color="#222" />
      <T x={399.5} y={532.7} text="Count of genes" size={9} bold align="center" color="#333" />
      <div style={{ position: "absolute", left: 497.5, top: 452.5, width: 6.5, height: 5.5, boxSizing: "border-box", background: "#ffd700", border: "1px solid #999" }} />
      <div style={{ position: "absolute", left: 497.5, top: 462.5, width: 6.5, height: 5.5, boxSizing: "border-box", background: "#4169e1", border: "1px solid #8a8fb0" }} />
      <T x={507} y={455.5} text="UP" size={8.5} bold color="#222" />
      <T x={507} y={465.5} text="DOWN" size={8.5} bold color="#222" />

      <Strip l={658.7} t={365} r={755.3} b={378.5} />
      <T x={706.7} y={689.3} text="GeneRatio" size={10} align="center" color="#333" />
      <T x={768.7} y={449} text="Count" size={9.5} color="#333" />
      <T x={768.7} y={525.7} text="p.adjust" size={9.5} color="#333" />

      <T x={916.7} y={359} text="Enriched Pathways" size={9.5} color="#333" />
      <Strip l={917} t={368.3} r={1027.7} b={379.8} />
      <T x={975} y={713} text="GeneRatio" size={9} align="center" color="#333" />
      <T x={1039} y={465.3} text="Count" size={8.5} color="#333" />
      <T x={1039} y={547} text="p.adjust" size={8.5} color="#333" />
    </div>
  );
}
